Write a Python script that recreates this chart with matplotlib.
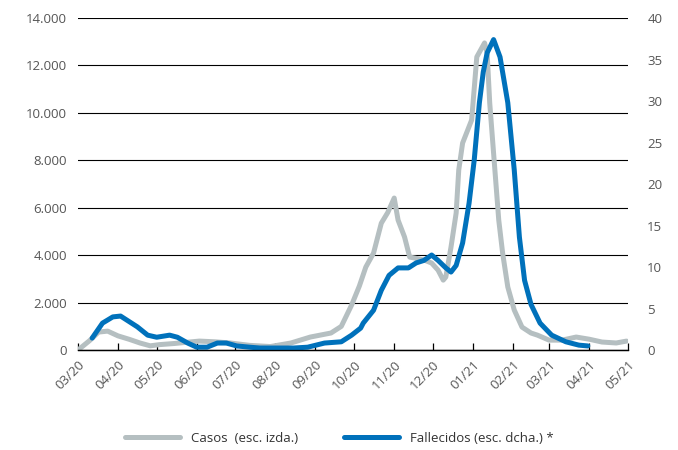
import numpy as np
import pandas as pd
import matplotlib
matplotlib.use('Agg')
import matplotlib.pyplot as plt
from matplotlib.ticker import FuncFormatter

plt.rcParams['font.family'] = ['Open Sans', 'DejaVu Sans']

# Casos (left axis)
casos_dates = [
    '2020-03-01', '2020-03-10', '2020-03-17', '2020-03-24', '2020-04-01',
    '2020-04-10', '2020-04-18', '2020-04-26', '2020-05-03', '2020-05-15',
    '2020-06-03', '2020-06-15', '2020-06-27', '2020-07-12', '2020-07-28',
    '2020-08-13', '2020-08-28', '2020-09-13', '2020-09-21', '2020-09-29',
    '2020-10-05', '2020-10-10', '2020-10-16', '2020-10-22', '2020-10-27',
    '2020-11-01', '2020-11-04', '2020-11-09', '2020-11-13', '2020-11-17',
    '2020-11-24', '2020-11-30', '2020-12-05', '2020-12-09', '2020-12-11',
    '2020-12-15', '2020-12-19', '2020-12-21', '2020-12-24', '2020-12-31',
    '2021-01-04', '2021-01-10', '2021-01-12', '2021-01-14', '2021-01-17',
    '2021-01-21', '2021-01-24', '2021-01-28', '2021-02-02', '2021-02-08',
    '2021-02-15', '2021-02-20', '2021-03-01', '2021-03-11', '2021-03-22',
    '2021-04-01', '2021-04-11', '2021-04-22', '2021-04-30',
]
casos = [
    0, 400, 760, 800, 600,
    450, 300, 180, 230, 280,
    380, 350, 300, 200, 150,
    300, 550, 720, 1000, 1900,
    2700, 3500, 4090, 5350, 5800,
    6410, 5480, 4770, 3920, 3880,
    3800, 3670, 3370, 2950, 3080,
    4340, 5780, 7590, 8730, 9700,
    12360, 12950, 12520, 10420, 8300,
    5480, 4090, 2660, 1690, 970,
    720, 630, 420, 420, 550,
    460, 340, 300, 380,
]

# Fallecidos (right axis)
fall_dates = [
    '2020-03-12', '2020-03-20', '2020-03-28', '2020-04-03', '2020-04-08',
    '2020-04-16', '2020-04-24', '2020-05-01', '2020-05-11', '2020-05-17',
    '2020-05-25', '2020-06-01', '2020-06-09', '2020-06-17', '2020-06-24',
    '2020-07-02', '2020-07-12', '2020-07-20', '2020-08-15', '2020-08-26',
    '2020-09-08', '2020-09-21', '2020-09-29', '2020-10-06', '2020-10-08',
    '2020-10-16', '2020-10-22', '2020-10-28', '2020-11-04', '2020-11-12',
    '2020-11-18', '2020-11-24', '2020-11-30', '2020-12-05', '2020-12-11',
    '2020-12-15', '2020-12-19', '2020-12-24', '2020-12-29', '2021-01-02',
    '2021-01-06', '2021-01-09', '2021-01-12', '2021-01-17', '2021-01-22',
    '2021-01-28', '2021-02-02', '2021-02-06', '2021-02-10', '2021-02-15',
    '2021-02-22', '2021-03-03', '2021-03-14', '2021-03-24', '2021-03-31',
]
fallecidos = [
    1.45, 3.25, 4.0, 4.1, 3.6,
    2.8, 1.8, 1.55, 1.8, 1.55,
    0.85, 0.35, 0.35, 0.85, 0.85,
    0.5, 0.35, 0.25, 0.25, 0.35,
    0.85, 1.0, 1.8, 2.65, 3.25,
    4.8, 7.2, 9.0, 9.9, 9.9,
    10.5, 10.8, 11.45, 10.8, 9.9,
    9.4, 10.2, 12.9, 17.7, 22.9,
    29.8, 33.5, 35.8, 37.4, 35.3,
    29.8, 21.7, 13.6, 8.4, 5.5,
    3.25, 1.8, 1.0, 0.6, 0.5,
]

month_ticks = pd.date_range('2020-03-01', '2021-05-01', freq='MS')

GRAY = '#B5BFC1'
BLUE = '#0071BB'
TXT = '#555555'

fig = plt.figure(figsize=(6.78, 4.5), dpi=100)
ax = fig.add_axes([0.115, 0.222, 0.811, 0.738])
ax2 = ax.twinx()

l1, = ax.plot(pd.to_datetime(casos_dates), casos, color=GRAY, lw=3.6,
              solid_capstyle='round', solid_joinstyle='round',
              label='Casos  (esc. izda.)')
l2, = ax2.plot(pd.to_datetime(fall_dates), fallecidos, color=BLUE, lw=3.6,
               solid_capstyle='round', solid_joinstyle='round',
               label='Fallecidos (esc. dcha.) *')

ax.set_ylim(0, 14000)
ax.set_yticks(np.arange(0, 14001, 2000))
ax.yaxis.set_major_formatter(FuncFormatter(lambda v, p: f'{int(v):,}'.replace(',', '.')))
ax2.set_ylim(0, 40)
ax2.set_yticks(np.arange(0, 41, 5))
ax.set_xlim(month_ticks[0], month_ticks[-1])

ax.grid(axis='y', color='black', lw=0.8)
ax.set_axisbelow(True)
ax2.set_zorder(ax.get_zorder() + 1)
ax2.patch.set_visible(False)
for a in (ax, ax2):
    for s in ('left', 'right', 'top'):
        a.spines[s].set_visible(False)
    a.spines['bottom'].set_color('black')
    a.spines['bottom'].set_linewidth(0.9)

ax.set_xticks(month_ticks)
ax.set_xticklabels([d.strftime('%m/%y') for d in month_ticks], rotation=45,
                   ha='right', va='top', rotation_mode='anchor')
ax.tick_params(axis='x', direction='in', length=5, width=0.9, color='black',
               labelsize=9.5, labelcolor=TXT, pad=6)
ax.tick_params(axis='y', length=0, labelsize=9.5, labelcolor=TXT, pad=8)
ax2.tick_params(axis='y', length=0, labelsize=9.5, labelcolor=TXT, pad=14)

fig.legend(handles=[l1, l2], loc='lower center', bbox_to_anchor=(0.5, -0.015),
           ncol=2, frameon=False, handlelength=4.2, columnspacing=3.5,
           handletextpad=0.8, fontsize=9.5, labelcolor='#333333')

fig.savefig('out.png', dpi=100)
